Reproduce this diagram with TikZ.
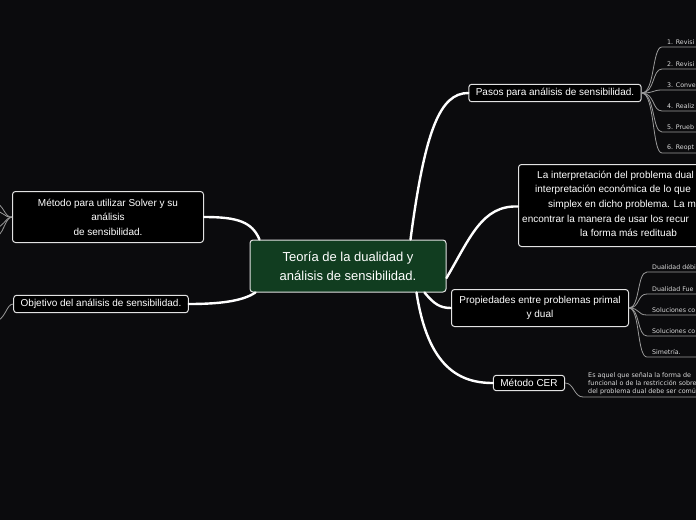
\documentclass[tikz,border=0pt]{standalone}
\usepackage{fontspec}
\setmainfont{Liberation Sans}
\newfontfamily\leaffont{DejaVu Sans}
\usetikzlibrary{positioning}
\definecolor{bgdark}{HTML}{0B0B0D}
\definecolor{rootgreen}{HTML}{113D20}
\definecolor{twiggray}{HTML}{9A9A9A}
\definecolor{edgegray}{HTML}{E2E2E2}

\begin{document}
\begin{tikzpicture}[x=1pt, y=-1pt,
    topic/.style={rectangle, rounded corners=3pt, draw=edgegray, line width=1pt, fill=black,
                  text=white, font=\fontsize{10}{14.5}\selectfont, align=center,
                  inner xsep=7pt, inner ysep=4pt},
    central/.style={topic, fill=rootgreen, font=\fontsize{13}{19}\selectfont,
                    minimum width=196pt, minimum height=52pt},
    textline/.style={anchor=west, text=white, inner sep=0pt, font=\fontsize{10}{12}\selectfont},
    branch/.style={draw=white, line width=2.4pt, line cap=round},
    twig/.style={draw=twiggray, line width=0.8pt},
    leaf/.style={anchor=south west, text=white!85!black, align=left,
                 font=\leaffont\fontsize{6.3}{7.5}\selectfont, inner xsep=5pt, inner ysep=2pt}
  ]
    \useasboundingbox (0,0) rectangle (696,520);
    \fill[bgdark] (0,0) rectangle (696,520);
    \clip (0,0) rectangle (696,520);

    % main topics
    \node[central] (root) at (348,266) {Teoría de la dualidad y\\análisis de sensibilidad.};
    \node[topic] (pasos) at (555,93) {Pasos para análisis de sensibilidad.};
    \node[topic, minimum width=282pt, minimum height=82pt, anchor=north west] (interp) at (518,164) {};
    \node[topic, minimum width=177pt, minimum height=37pt] (props) at (540,308)
        {Propiedades entre problemas primal\\y dual};
    \node[topic] (cer) at (529,383) {Método CER};
    \node[topic, minimum width=191pt, minimum height=51pt] (solver) at (108,217)
        {Método para utilizar Solver y su\\análisis\\de sensibilidad.};
    \node[topic] (objetivo) at (101,304) {Objetivo del análisis de sensibilidad.};

    % text of the wide box (runs past the edge)
    \node[textline] (interpA) at (537,176) {La interpretación del problema dual p};
    \node[textline] (interpB) at (535,190) {interpretación económica de lo que};
    \node[textline] (interpC) at (548,205) {simplex en dicho problema. La met};
    \node[textline] (interpD) at (522,219) {encontrar la manera de usar los recur};
    \node[textline] (interpE) at (580,233) {la forma más redituab};

    % branches from the centre
    \draw[branch] ([xshift=-36pt]root.north east) .. controls (425,130) and (440,93) .. (pasos.west);
    \draw[branch] ([yshift=-12pt]root.east) .. controls (470,238) and (482,205) .. ([yshift=-1pt]interp.west);
    \draw[branch] ([xshift=-22pt]root.south east) .. controls (434,304) and (440,308) .. (props.west);
    \draw[branch] ([xshift=-30pt]root.south east) .. controls (428,368) and (460,383) .. (cer.west);
    \draw[branch] ([xshift=10pt]root.north west) .. controls (252,222) and (238,217) .. (solver.east);
    \draw[branch] ([xshift=6pt]root.south west) .. controls (244,300) and (225,304) .. (objetivo.east);

    % steps
    \node[leaf] (stepA) at (662,47)  {1. Revisi};
    \node[leaf] (stepB) at (662,69)  {2. Revisi};
    \node[leaf] (stepC) at (662,90)  {3. Conve};
    \node[leaf] (stepD) at (662,111) {4. Realiz};
    \node[leaf] (stepE) at (662,132) {5. Prueb};
    \node[leaf] (stepF) at (662,153) {6. Reopt};
    \foreach \s in {stepA,stepB,stepC,stepD,stepE,stepF}
      \draw[twig] (pasos.east) .. controls (655,93) and (652,93 |- \s.south west) .. (\s.south west)
                  -- ([xshift=40pt]\s.south east);

    % properties
    \node[leaf] (propA) at (647,272) {Dualidad débi};
    \node[leaf] (propB) at (647,294) {Dualidad Fue};
    \node[leaf] (propC) at (647,315) {Soluciones co};
    \node[leaf] (propD) at (647,336) {Soluciones co};
    \node[leaf] (propE) at (647,357) {Simetría.};
    \foreach \p in {propA,propB,propC,propD,propE}
      \draw[twig] (props.east) .. controls (640,308) and (637,308 |- \p.south west) .. (\p.south west)
                  -- ([xshift=60pt]\p.south east);

    % CER note
    \node[leaf, font=\leaffont\fontsize{6.4}{8}\selectfont] (cerleaf) at (583,397)
        {Es aquel que señala la forma de\\funcional o de la restricción sobre\\del problema dual debe ser comú};
    \draw[twig] (cer.east) .. controls (574,383) and (574,397) .. (cerleaf.south west)
                -- ([xshift=30pt]cerleaf.south east);

    % twigs leaving on the left
    \coordinate (solverA) at (-6,203);
    \coordinate (solverB) at (-6,211);
    \coordinate (solverC) at (-6,228);
    \coordinate (solverD) at (-6,237);
    \coordinate (objA) at (-6,322);
    \foreach \c in {solverA,solverB,solverC,solverD}
      \draw[twig] (solver.west) .. controls (4,218) and (4,218 |- \c) .. (\c);
    \draw[twig] (objetivo.west) .. controls (6,304) and (6,320) .. (objA);
\end{tikzpicture}
\end{document}
